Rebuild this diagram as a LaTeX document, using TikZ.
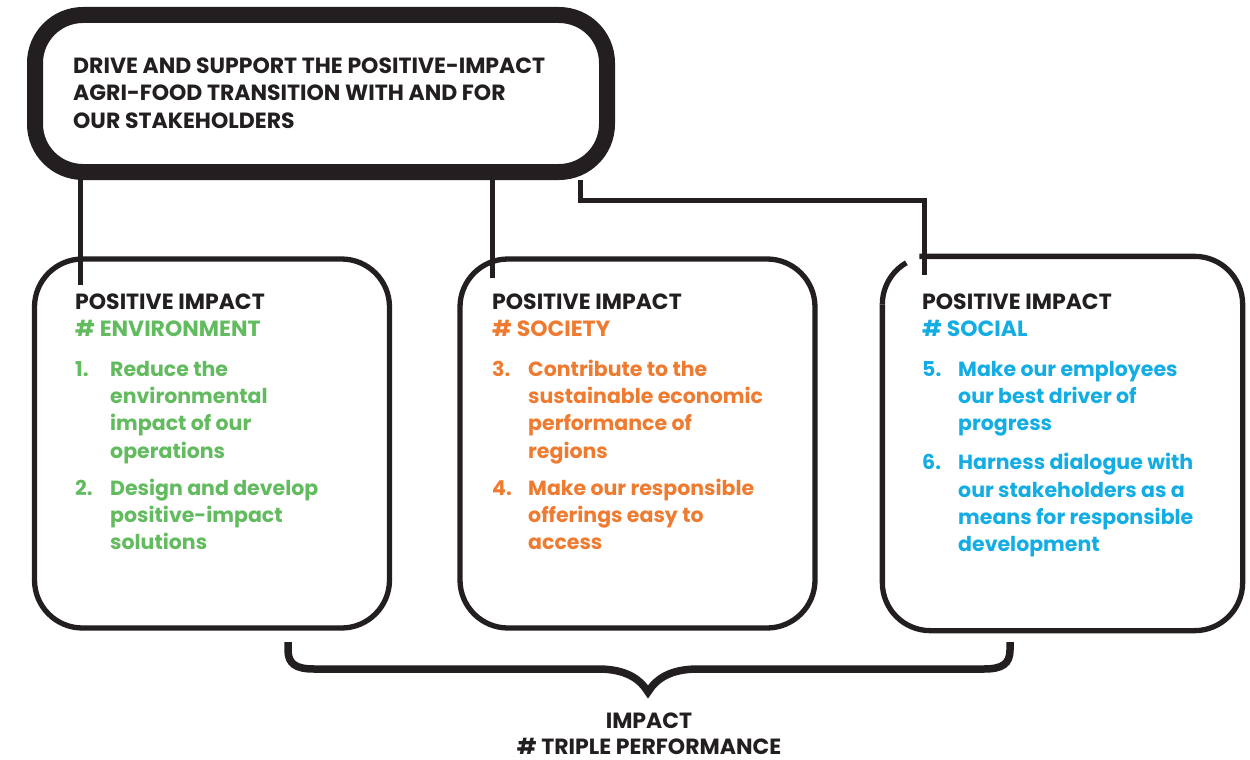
\documentclass[tikz,border=0pt]{standalone}
\usepackage{fontspec}
\setmainfont{Poppins}
\usetikzlibrary{positioning}

\definecolor{ink}{HTML}{231F20}
\definecolor{envgreen}{HTML}{62BB5E}
\definecolor{socorange}{HTML}{EE7B30}
\definecolor{socblue}{HTML}{13ADE4}

\begin{document}
\begin{tikzpicture}[x=1pt, y=-1pt]
\tikzstyle{goalbox}=[rectangle, draw=ink, line width=16pt, rounded corners=48pt, minimum width=572pt, minimum height=157pt, inner sep=0pt]
\tikzstyle{pillar}=[rectangle, draw=ink, line width=5.3pt, rounded corners=48pt, minimum width=355pt, minimum height=369pt, inner sep=0pt]
\tikzstyle{txt}=[anchor=north west, inner sep=0pt, align=left, text=ink, font=\bfseries\fontsize{20.5}{27.3}\selectfont]
\tikzstyle{headtxt}=[txt, font=\bfseries\fontsize{22}{27}\selectfont]
\tikzstyle{link}=[draw=ink, line width=5pt]

\useasboundingbox (0,0) rectangle (1250,760);

% mission box
\node[goalbox] (goal) at (321,93.5) {};
\node[txt, font=\bfseries\fontsize{22}{27.6}\selectfont] (goaltext) at (73,53.7) {\strut DRIVE AND SUPPORT THE POSITIVE-IMPACT\\AGRI-FOOD TRANSITION WITH AND FOR\\OUR STAKEHOLDERS};

% three pillars
\node[pillar] (env) at (212,443.5) {};
\node[pillar] (soc) at (637.5,443.5) {};
\node[pillar, draw=none] (social) at (1062.5,443.5) {};
\draw[ink, line width=5.3pt, rounded corners=48pt] ([xshift=37pt]social.north west) -- (social.north east) -- (social.south east) -- (social.south west) -- ([yshift=-48pt]social.north west);
\draw[ink, line width=5.3pt] ([yshift=-48pt]social.north west) arc[start angle=180, end angle=240, radius=48];

% links
\coordinate (envend) at (80,285);
\coordinate (socend) at (492,278);
\coordinate (elbow) at (580,200);
\coordinate (socialend) at (924,275);
\draw[link] (goal.south -| envend) -- (envend);
\draw[link] (goal.south -| socend) -- (socend);
\draw[link] (goal.south -| elbow) |- (socialend |- elbow) -- (socialend);

% environment
\node[headtxt] (envhead) at (75,290.1) {\strut POSITIVE IMPACT\\{\color{envgreen}\# ENVIRONMENT}};
\node[txt, text=envgreen] (env1num) at (75,356.9) {\strut 1.};
\node[txt, text=envgreen] (env1) at (110,356.9) {\strut Reduce the\\environmental\\impact of our\\operations};
\node[txt, text=envgreen] (env2num) at (75,475.9) {\strut 2.};
\node[txt, text=envgreen] (env2) at (110,475.9) {\strut Design and develop\\positive-impact\\solutions};

% society
\node[headtxt] (sochead) at (492,290.1) {\strut POSITIVE IMPACT\\{\color{socorange}\# SOCIETY}};
\node[txt, text=socorange] (soc3num) at (492,356.9) {\strut 3.};
\node[txt, text=socorange] (soc3) at (528,356.9) {\strut Contribute to the\\sustainable economic\\performance of\\regions};
\node[txt, text=socorange] (soc4num) at (492,475.9) {\strut 4.};
\node[txt, text=socorange] (soc4) at (528,475.9) {\strut Make our responsible\\offerings easy to\\access};

% social
\node[headtxt] (socialhead) at (922,290.1) {\strut POSITIVE IMPACT\\{\color{socblue}\# SOCIAL}};
\node[txt, text=socblue] (social5num) at (922,356.9) {\strut 5.};
\node[txt, text=socblue] (social5) at (958,356.9) {\strut Make our employees\\our best driver of\\progress};
\node[txt, text=socblue] (social6num) at (922,450.4) {\strut 6.};
\node[txt, text=socblue] (social6) at (958,450.4) {\strut Harness dialogue with\\our stakeholders as a\\means for responsible\\development};

% brace
\draw[ink, line width=7.5pt, line join=miter, miter limit=20] (288,642) -- (288,650) .. controls (288,664) and (296,669) .. (314,669) -- (598,669) .. controls (626,669) and (640,679) .. (648,692) .. controls (656,679) and (670,669) .. (698,669) -- (984,669) .. controls (1002,669) and (1010,664) .. (1010,650) -- (1010,642);
\node[txt, anchor=north, align=center, font=\bfseries\fontsize{22}{25.5}\selectfont] (impact) at (649,710.5) {\strut IMPACT\\\# TRIPLE PERFORMANCE};
\end{tikzpicture}
\end{document}
